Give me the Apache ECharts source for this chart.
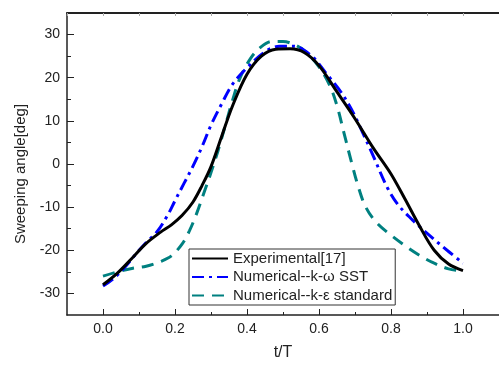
<!DOCTYPE html>
<html>
<head>
<meta charset="utf-8">
<script src="https://cdn.jsdelivr.net/npm/echarts@6/dist/echarts.min.js"></script>
<style>html,body{margin:0;padding:0;background:#fff}#c{width:499px;height:366px}</style>
</head>
<body>
<div id="c"></div>
<script>
// Experimental[17]
const expT = [0, 0.04, 0.08, 0.12, 0.16, 0.19, 0.22, 0.25, 0.275, 0.3, 0.33, 0.36, 0.4, 0.44, 0.48, 0.52, 0.56, 0.6, 0.65, 0.7, 0.75, 0.8, 0.84, 0.88, 0.92, 0.96, 1.0];
const expV = [-28, -25.3, -21.9, -18.4, -15.8, -14.1, -11.9, -8.8, -5, -0.6, 6.5, 13.5, 20.8, 25, 26.6, 26.7, 25.8, 22.8, 16.7, 10.5, 3.8, -2.3, -8.3, -14.5, -20, -23.2, -24.7];
// Numerical--k-ω SST
const sstT = [0, 0.03, 0.06, 0.09, 0.12, 0.15, 0.18, 0.2, 0.225, 0.25, 0.275, 0.3, 0.33, 0.36, 0.4, 0.45, 0.49, 0.53, 0.58, 0.62, 0.66, 0.69, 0.72, 0.75, 0.79, 0.82, 0.86, 0.89, 0.94, 1.0];
const sstV = [-28.3, -26.5, -24, -21, -18.2, -15.7, -11.8, -8.5, -4.5, -0.5, 4, 9, 14, 18.5, 22.3, 26, 27.3, 27.3, 25, 21, 16.8, 12.7, 7.5, 2, -5.5, -9.5, -13, -15.3, -18.9, -23];
// Numerical--k-ε standard
const keT = [0, 0.04, 0.08, 0.12, 0.16, 0.19, 0.22, 0.24, 0.26, 0.28, 0.3, 0.32, 0.34, 0.36, 0.38, 0.41, 0.44, 0.47, 0.5, 0.53, 0.56, 0.6, 0.63, 0.65, 0.67, 0.69, 0.71, 0.73, 0.76, 0.8, 0.84, 0.88, 0.92, 0.96, 1.0];
const keV = [-26, -25, -24.2, -23.7, -22.6, -21.3, -18.5, -15.5, -11.5, -6.8, -2, 3.2, 9, 14.8, 19.8, 24.5, 27.2, 28.4, 28.4, 27.7, 26.2, 22.5, 18.2, 13.5, 7, 0.5, -5.5, -10, -13.6, -16.5, -19, -21.2, -23, -24.3, -24.8];

const xLabels = [0, 0.2, 0.4, 0.6, 0.8, 1.0];
const xMinor = [0.1, 0.3, 0.5, 0.7, 0.9];
const xTop = [-0.1, 0, 0.1, 0.2, 0.3, 0.4, 0.5, 0.6, 0.7, 0.8, 0.9, 1.0];
const yLabels = [-30, -20, -10, 0, 10, 20, 30];
const yMinor = [-25, -15, -5, 5, 15, 25];

const zip = (a, b) => a.map((t, i) => [t, b[i]]);
const font = 'Liberation Sans, Arial, sans-serif';
const chart = echarts.init(document.getElementById('c'), null, {renderer: 'canvas'});
chart.setOption({
  animation: false,
  grid: {left: 67, top: 13, right: -9, bottom: 45},
  xAxis: [
    {type: 'value', position: 'bottom', min: -0.1, max: 1.1,
     name: 't/T', nameLocation: 'middle', nameGap: 30,
     nameTextStyle: {fontFamily: font, fontSize: 16, color: '#222'},
     axisLine: {onZero: false, lineStyle: {color: '#222', width: 1.5}},
     axisTick: {inside: true, length: 6, customValues: xLabels, lineStyle: {color: '#222'}},
     axisLabel: {customValues: xLabels, formatter: v => v.toFixed(1), fontFamily: font, fontSize: 14, color: '#222', margin: 7},
     splitLine: {show: false}},
    {type: 'value', position: 'bottom', min: -0.1, max: 1.1,
     axisLine: {show: false, onZero: false},
     axisTick: {inside: true, length: 3, customValues: xMinor, lineStyle: {color: '#222'}},
     axisLabel: {show: false}, splitLine: {show: false}},
    {type: 'value', position: 'top', min: -0.1, max: 1.1,
     axisLine: {onZero: false, lineStyle: {color: '#222', width: 2}},
     axisTick: {inside: true, length: 3, customValues: xTop, lineStyle: {color: '#aaa'}},
     axisLabel: {show: false}, splitLine: {show: false}}
  ],
  yAxis: [
    {type: 'value', min: -35, max: 35,
     name: 'Sweeping angle[deg]', nameLocation: 'middle', nameRotate: 90, nameGap: 39,
     nameTextStyle: {fontFamily: font, fontSize: 15, color: '#222', padding: [0, 20, 0, 0]},
     axisLine: {show: true, onZero: false, lineStyle: {color: '#222', width: 1.5}},
     axisTick: {show: true, inside: true, length: 7, customValues: yLabels, lineStyle: {color: '#222'}},
     axisLabel: {customValues: yLabels, fontFamily: font, fontSize: 14, color: '#222', margin: 7},
     splitLine: {show: false}},
    {type: 'value', min: -35, max: 35, position: 'left',
     axisLine: {show: false, onZero: false},
     axisTick: {show: true, inside: true, length: 4, customValues: yMinor, lineStyle: {color: '#222'}},
     axisLabel: {show: false}, splitLine: {show: false}}
  ],
  legend: {
    orient: 'vertical', left: 189, top: 249,
    padding: [2, 3, 2, 2], itemGap: 3.5, itemWidth: 36, itemHeight: 14,
    borderColor: '#333', borderWidth: 1, backgroundColor: '#fff',
    itemStyle: {opacity: 0},
    textStyle: {fontFamily: font, fontSize: 15, color: '#222'},
    data: ['Experimental[17]', 'Numerical--k-ω SST', 'Numerical--k-ε standard']
  },
  series: [
    {name: 'Experimental[17]', type: 'line', data: zip(expT, expV), smooth: 0.35, symbol: 'none',
     lineStyle: {color: '#000', width: 3}, itemStyle: {color: '#000'}, z: 3},
    {name: 'Numerical--k-ω SST', type: 'line', data: zip(sstT, sstV), smooth: 0.35, symbol: 'none',
     lineStyle: {color: '#0000ff', width: 3, type: [12, 5, 3, 5]}, itemStyle: {color: '#0000ff'}, z: 2},
    {name: 'Numerical--k-ε standard', type: 'line', data: zip(keT, keV), smooth: 0.35, symbol: 'none',
     lineStyle: {color: '#008080', width: 3, type: [12, 8]}, itemStyle: {color: '#008080'}, z: 1}
  ]
});
</script>
</body>
</html>
